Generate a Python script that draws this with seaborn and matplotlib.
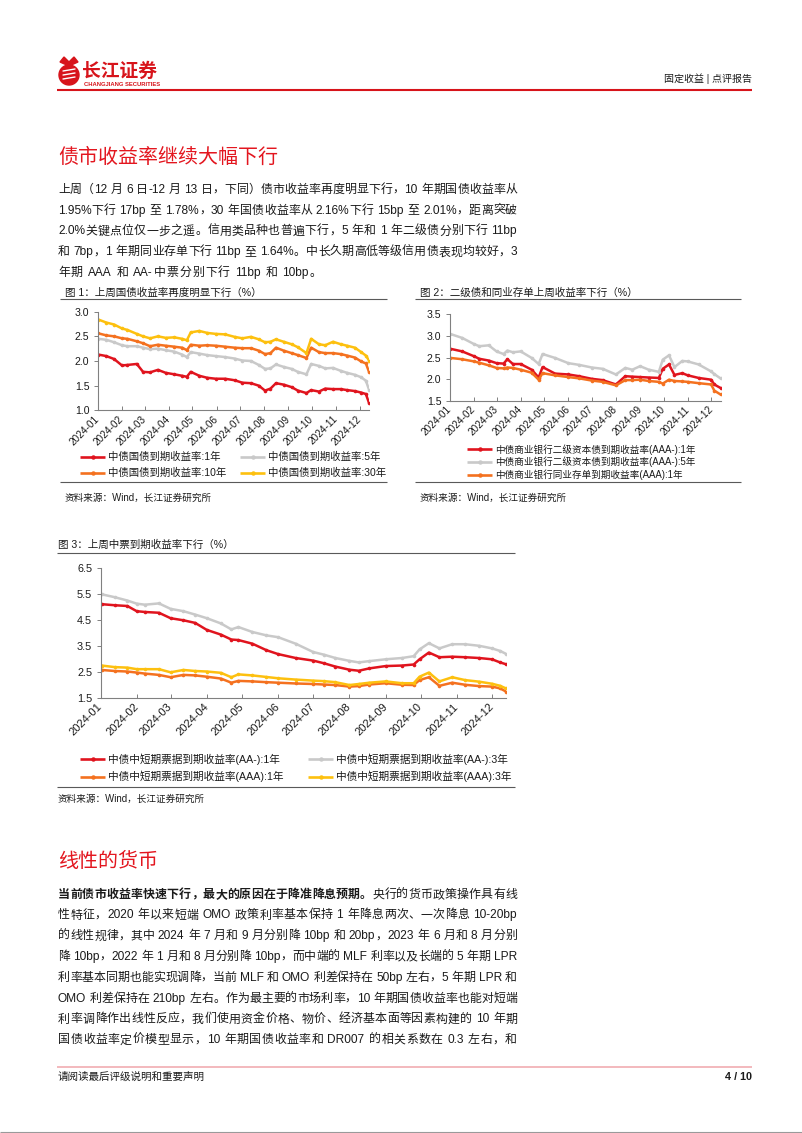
import re
import pandas as pd
import matplotlib
matplotlib.use('Agg')
import matplotlib.pyplot as plt
import matplotlib.dates as mdates
from matplotlib.ticker import FormatStrFormatter
from matplotlib.font_manager import FontProperties
from matplotlib.lines import Line2D
from matplotlib.patches import Circle, Polygon
import seaborn as sns

# ---------------- DATA ----------------
month_labels = ['2024-01', '2024-02', '2024-03', '2024-04', '2024-05', '2024-06',
                '2024-07', '2024-08', '2024-09', '2024-10', '2024-11', '2024-12']

# Chart 1: government bond yields
c1_dates = ['01-02', '01-12', '01-22', '02-01', '02-08', '02-20', '02-28', '03-08', '03-18', '03-28',
            '04-08', '04-18', '04-24', '04-29', '05-10', '05-20', '05-31', '06-12', '06-24', '07-04',
            '07-15', '07-25', '08-02', '08-09', '08-16', '08-26', '09-05', '09-13', '09-24', '09-30',
            '10-10', '10-18', '10-28', '11-07', '11-15', '11-25', '12-03', '12-09', '12-13']
c1_names = ['中债国债到期收益率:1年', '中债国债到期收益率:5年',
            '中债国债到期收益率:10年', '中债国债到期收益率:30年']
gov_1y = [2.13, 2.10, 2.04, 1.91, 1.92, 1.94, 1.78, 1.77, 1.82, 1.76, 1.73, 1.70, 1.68, 1.78, 1.70,
          1.66, 1.64, 1.64, 1.61, 1.56, 1.55, 1.50, 1.40, 1.44, 1.55, 1.52, 1.47, 1.40, 1.35, 1.41,
          1.38, 1.44, 1.43, 1.43, 1.41, 1.39, 1.36, 1.33, 1.15]
gov_5y = [2.45, 2.43, 2.38, 2.32, 2.30, 2.30, 2.27, 2.24, 2.25, 2.22, 2.19, 2.13, 2.08, 2.18, 2.15,
          2.12, 2.10, 2.08, 2.05, 2.01, 2.00, 1.92, 1.84, 1.85, 1.93, 1.88, 1.84, 1.78, 1.73, 1.94,
          1.90, 1.85, 1.86, 1.80, 1.76, 1.72, 1.67, 1.60, 1.42]
gov_10y = [2.56, 2.52, 2.50, 2.46, 2.45, 2.40, 2.36, 2.30, 2.33, 2.31, 2.29, 2.27, 2.22, 2.33, 2.31,
           2.32, 2.31, 2.29, 2.27, 2.26, 2.26, 2.21, 2.14, 2.16, 2.27, 2.21, 2.16, 2.12, 2.06, 2.27,
           2.18, 2.16, 2.16, 2.14, 2.11, 2.07, 1.99, 1.95, 1.78]
gov_30y = [2.84, 2.78, 2.74, 2.66, 2.63, 2.55, 2.50, 2.46, 2.50, 2.47, 2.48, 2.45, 2.42, 2.58, 2.61,
           2.57, 2.55, 2.54, 2.49, 2.46, 2.49, 2.44, 2.38, 2.39, 2.44, 2.39, 2.34, 2.28, 2.16, 2.45,
           2.34, 2.32, 2.39, 2.34, 2.31, 2.27, 2.18, 2.11, 2.01]

# Chart 2: tier-2 capital bonds and NCD
c2_dates = ['01-02', '01-17', '02-01', '02-08', '02-20', '03-01', '03-10', '03-15', '03-22', '04-01',
            '04-15', '04-24', '04-29', '05-15', '06-01', '06-15', '07-01', '07-15', '08-01', '08-13',
            '08-22', '09-01', '09-12', '09-25', '09-30', '10-08', '10-15', '10-25', '11-01', '11-15',
            '12-01', '12-05', '12-13']
c2_names = ['中债商业银行二级资本债到期收益率(AAA-):1年',
            '中债商业银行二级资本债到期收益率(AAA-):5年',
            '中债商业银行同业存单到期收益率(AAA):1年']
t2_1y = [2.70, 2.64, 2.53, 2.47, 2.43, 2.37, 2.36, 2.46, 2.35, 2.35, 2.22, 2.04, 2.28, 2.13, 2.11,
         2.07, 2.01, 1.98, 1.88, 2.07, 2.06, 2.05, 2.04, 2.03, 2.24, 2.34, 2.10, 2.14, 2.09, 2.03,
         1.99, 1.88, 1.80]
t2_5y = [3.04, 2.95, 2.81, 2.76, 2.78, 2.64, 2.58, 2.66, 2.62, 2.64, 2.49, 2.35, 2.58, 2.49, 2.37,
         2.33, 2.27, 2.24, 2.11, 2.26, 2.22, 2.30, 2.22, 2.17, 2.45, 2.55, 2.28, 2.42, 2.41, 2.34,
         2.18, 2.12, 2.02]
ncd_1y = [2.49, 2.46, 2.41, 2.38, 2.32, 2.26, 2.25, 2.27, 2.26, 2.22, 2.15, 1.99, 2.14, 2.09, 2.05,
          2.02, 1.97, 1.94, 1.86, 1.98, 1.98, 1.99, 1.96, 1.94, 1.90, 1.99, 1.96, 1.95, 1.94, 1.91,
          1.88, 1.74, 1.65]

# Chart 3: medium-term notes
c3_dates = ['01-02', '01-13', '01-24', '02-01', '02-08', '02-20', '03-01', '03-12', '03-22', '04-01',
            '04-13', '04-22', '04-28', '05-10', '05-22', '06-01', '06-16', '07-01', '07-10', '07-20',
            '08-01', '08-09', '08-18', '09-01', '09-15', '09-25', '09-30', '10-08', '10-17', '10-28',
            '11-08', '11-20', '12-01', '12-08', '12-13']
c3_names = ['中债中短期票据到期收益率(AA-):1年', '中债中短期票据到期收益率(AA-):3年',
            '中债中短期票据到期收益率(AAA):1年', '中债中短期票据到期收益率(AAA):3年']
mtn_aam_1y = [5.12, 5.08, 5.05, 4.85, 4.82, 4.79, 4.58, 4.50, 4.40, 4.13, 3.95, 3.76, 3.74, 3.60,
              3.35, 3.20, 3.05, 2.95, 2.85, 2.72, 2.60, 2.56, 2.65, 2.74, 2.76, 2.80, 3.00, 3.26,
              3.08, 3.10, 3.08, 3.05, 3.00, 2.88, 2.81]
mtn_aam_3y = [5.50, 5.39, 5.26, 5.14, 5.10, 5.15, 4.94, 4.85, 4.72, 4.58, 4.38, 4.15, 4.24, 4.05,
              3.92, 3.85, 3.60, 3.28, 3.18, 3.05, 2.94, 2.88, 2.93, 3.00, 3.05, 3.12, 3.38, 3.62,
              3.42, 3.58, 3.58, 3.52, 3.42, 3.32, 3.21]
mtn_aaa_1y = [2.59, 2.55, 2.53, 2.49, 2.45, 2.40, 2.31, 2.40, 2.38, 2.33, 2.26, 2.10, 2.17, 2.15,
              2.12, 2.10, 2.07, 2.05, 2.03, 2.01, 1.95, 1.97, 2.03, 2.08, 2.02, 2.01, 2.20, 2.31,
              1.98, 2.10, 2.02, 1.97, 1.95, 1.88, 1.76]
mtn_aaa_3y = [2.76, 2.70, 2.68, 2.62, 2.62, 2.62, 2.50, 2.59, 2.55, 2.53, 2.48, 2.31, 2.42, 2.38,
              2.32, 2.27, 2.22, 2.18, 2.16, 2.12, 2.01, 2.05, 2.10, 2.15, 2.08, 2.08, 2.33, 2.49,
              2.15, 2.31, 2.20, 2.14, 2.06, 1.98, 1.88]

# ---------------- STYLE ----------------
sns.set_style('ticks')
FAM = ['Liberation Sans', 'Noto Sans CJK SC']
plt.rcParams['font.family'] = FAM
plt.rcParams['axes.unicode_minus'] = False

RED = '#E0141E'
GRAY = '#C9C9C9'
ORANGE = '#F4711F'
YELLOW = '#FDC00F'
TITLE_RED = '#E3161F'
TXT = '#1a1a1a'
SPINE = '#808080'

W, H = 802, 1133
fig = plt.figure(figsize=(W / 100, H / 100), dpi=100)
bg = fig.add_axes([0, 0, 1, 1])
bg.set_xlim(0, W)
bg.set_ylim(H, 0)
bg.axis('off')
renderer = fig.canvas.get_renderer()


def px_axes(l, r, t, b):
    return fig.add_axes([l / W, 1 - b / H, (r - l) / W, (b - t) / H])


def hline(y, x1, x2, color, lw):
    bg.add_line(Line2D([x1, x2], [y, y], color=color, lw=lw, solid_capstyle='butt'))


def draw_chart(ax, dates, series, names, colors, ylim, yticks, xend, xfs, yfs):
    frames = [pd.DataFrame({'date': pd.to_datetime(['2024-' + d for d in dates]),
                            'value': v, 'series': n}) for n, v in zip(names, series)]
    df = pd.concat(frames, ignore_index=True)
    sns.lineplot(data=df, x='date', y='value', hue='series', hue_order=names,
                 palette=dict(zip(names, colors)), estimator=None, ax=ax, legend=False,
                 linewidth=1.8, marker='o', markersize=2.6, markeredgewidth=0)
    ax.set_xlim(pd.Timestamp('2024-01-01'), pd.Timestamp(xend))
    ax.set_ylim(*ylim)
    ax.set_yticks(yticks)
    ax.yaxis.set_major_formatter(FormatStrFormatter('%.1f'))
    ticks = pd.to_datetime([m + '-01' for m in month_labels])
    ax.set_xticks(ticks)
    ax.set_xticklabels(month_labels, rotation=45, ha='right', va='center',
                       rotation_mode='anchor', fontsize=xfs, color=TXT)
    for lbl in ax.get_yticklabels():
        lbl.set_fontsize(yfs)
        lbl.set_color(TXT)
    ax.set_xlabel('')
    ax.set_ylabel('')
    for s in ['top', 'right']:
        ax.spines[s].set_visible(False)
    for s in ['left', 'bottom']:
        ax.spines[s].set_color(SPINE)
        ax.spines[s].set_linewidth(0.8)
    ax.tick_params(axis='x', direction='in', length=3, width=0.7, color=SPINE, pad=5)
    ax.tick_params(axis='y', direction='out', length=3, width=0.7, color=SPINE, pad=3)
    ax.set_facecolor('none')


def legend_entry(x1, x2, y, color, label, fs):
    xm = (x1 + x2) / 2
    bg.add_line(Line2D([x1, xm, x2], [y, y, y], color=color, lw=1.9, marker='o',
                       markersize=3.2, markevery=[1], markeredgewidth=0, solid_capstyle='butt'))
    bg.text(x2 + 3, y, label, fontsize=fs, ha='left', va='center', color=TXT)


# ---------------- justified text helpers ----------------
def tokenize(s):
    return re.findall(r'[A-Za-z0-9\.%\-]+|\s|.', s)


def text_w(t, prop):
    if t == ' ':
        a = renderer.get_text_width_height_descent('a a', prop, ismath=False)[0]
        b = renderer.get_text_width_height_descent('aa', prop, ismath=False)[0]
        return a - b
    return renderer.get_text_width_height_descent(t, prop, ismath=False)[0]


BODY = 8.6


def para_line(segs, x0, x1, yc, size=BODY, justify=True, color=TXT):
    toks = []
    for text, wgt in segs:
        for t in tokenize(text):
            toks.append((t, wgt))
    props = {w: FontProperties(family=FAM, size=size, weight=w) for w in set(w for _, w in toks)}
    widths = [text_w(t, props[w]) for t, w in toks]
    n = len(toks)
    if justify and n > 1:
        gap = (x1 - x0 - sum(widths)) / (n - 1)
    else:
        gap = 0.9
    base = yc + 4.4
    x = x0
    for (t, w), wd in zip(toks, widths):
        if t != ' ':
            bg.text(x, base, t, fontsize=size, fontweight=w, ha='left', va='baseline', color=color)
        x += wd + gap


# ---------------- HEADER ----------------
bg.add_patch(Circle((69, 75), 10, color='#D7141B', zorder=3))
bg.add_patch(Polygon([[60, 62], [64, 57], [69, 62], [74, 57], [78, 62], [69, 66]],
                     closed=True, color='#D7141B', zorder=3))
for dy in (-4, 0, 4):
    bg.add_line(Line2D([63, 75], [75 + dy, 73 + dy], color='white', lw=1.0, zorder=4))
bg.text(82, 72, '长江证券', fontsize=13.5, fontweight='bold', color='#D7141B', ha='left', va='center')
bg.text(84, 84, 'CHANGJIANG SECURITIES', fontsize=4.2, fontweight='bold', color='#D7141B',
        ha='left', va='center')
bg.text(752, 79, '固定收益 | 点评报告', fontsize=7.2, color=TXT, ha='right', va='center')
hline(90, 57, 752, '#D7141B', 1.5)

# ---------------- SECTION 1 ----------------
bg.text(58, 157, '债市收益率继续大幅下行', fontsize=14.4, color=TITLE_RED, ha='left', va='center')
p1 = ['上周（12 月 6 日-12 月 13 日，下同）债市收益率再度明显下行，10 年期国债收益率从',
      '1.95%下行 17bp 至 1.78%，30 年国债收益率从 2.16%下行 15bp 至 2.01%，距离突破',
      '2.0%关键点位仅一步之遥。信用类品种也普遍下行，5 年和 1 年二级债分别下行 11bp',
      '和 7bp，1 年期同业存单下行 11bp 至 1.64%。中长久期高低等级信用债表现均较好，3',
      '年期 AAA 和 AA-中票分别下行 11bp 和 10bp。']
for i, ln in enumerate(p1):
    para_line([(ln, 'normal')], 58, 517, 188.3 + i * 20.85, justify=(i < len(p1) - 1))

# ---------------- CHART 1 ----------------
bg.text(65, 292.3, '图 1：上周国债收益率再度明显下行（%）', fontsize=7.6, color=TXT, ha='left', va='center')
hline(299.3, 60, 387, '#595959', 0.8)
ax1 = px_axes(97.7, 369, 311.7, 410.3)
draw_chart(ax1, c1_dates, [gov_1y, gov_5y, gov_10y, gov_30y], c1_names,
           [RED, GRAY, ORANGE, YELLOW], (1.0, 3.0), [1.0, 1.5, 2.0, 2.5, 3.0], '2024-12-13', 7.2, 7.6)
legend_entry(80, 105, 456.7, RED, c1_names[0], 7.5)
legend_entry(240, 265, 456.7, GRAY, c1_names[1], 7.5)
legend_entry(80, 105, 472.7, ORANGE, c1_names[2], 7.5)
legend_entry(240, 265, 472.7, YELLOW, c1_names[3], 7.5)
hline(481.7, 60, 387, '#595959', 0.8)
bg.text(65, 498, '资料来源：Wind，长江证券研究所', fontsize=6.9, color=TXT, ha='left', va='center')

# ---------------- CHART 2 ----------------
bg.text(420, 292.3, '图 2：二级债和同业存单上周收益率下行（%）', fontsize=7.6, color=TXT, ha='left', va='center')
hline(299.3, 415, 741, '#595959', 0.8)
ax2 = px_axes(449.7, 720.5, 314, 401)
draw_chart(ax2, c2_dates, [t2_1y, t2_5y, ncd_1y], c2_names,
           [RED, GRAY, ORANGE], (1.5, 3.5), [1.5, 2.0, 2.5, 3.0, 3.5], '2024-12-13', 7.2, 7.6)
legend_entry(467, 492, 449.3, RED, c2_names[0], 6.9)
legend_entry(467, 492, 462.0, GRAY, c2_names[1], 6.9)
legend_entry(467, 492, 475.0, ORANGE, c2_names[2], 6.9)
hline(481.7, 415, 741, '#595959', 0.8)
bg.text(420, 498, '资料来源：Wind，长江证券研究所', fontsize=6.9, color=TXT, ha='left', va='center')

# ---------------- CHART 3 ----------------
bg.text(58.3, 545, '图 3：上周中票到期收益率下行（%）', fontsize=7.6, color=TXT, ha='left', va='center')
hline(552.7, 57, 515, '#595959', 0.8)
ax3 = px_axes(100.5, 506, 568.3, 698.3)
draw_chart(ax3, c3_dates, [mtn_aam_1y, mtn_aam_3y, mtn_aaa_1y, mtn_aaa_3y], c3_names,
           [RED, GRAY, ORANGE, YELLOW], (1.5, 6.5), [1.5, 2.5, 3.5, 4.5, 5.5, 6.5], '2024-12-13', 8.0, 7.8)
legend_entry(80, 105, 759.3, RED, c3_names[0], 7.7)
legend_entry(308, 333, 759.3, GRAY, c3_names[1], 7.7)
legend_entry(80, 105, 776.7, ORANGE, c3_names[2], 7.7)
legend_entry(308, 333, 776.7, YELLOW, c3_names[3], 7.7)
hline(787.3, 57, 515, '#595959', 0.8)
bg.text(58, 799.3, '资料来源：Wind，长江证券研究所', fontsize=6.9, color=TXT, ha='left', va='center')

# ---------------- SECTION 2 ----------------
bg.text(58, 861.7, '线性的货币', fontsize=14.4, color=TITLE_RED, ha='left', va='center')
p2 = [[('当前债市收益率快速下行，最大的原因在于降准降息预期。', 'bold'), ('央行的货币政策操作具有线', 'normal')],
      [('性特征，2020 年以来短端 OMO 政策利率基本保持 1 年降息两次、一次降息 10-20bp', 'normal')],
      [('的线性规律，其中 2024 年 7 月和 9 月分别降 10bp 和 20bp，2023 年 6 月和 8 月分别', 'normal')],
      [('降 10bp，2022 年 1 月和 8 月分别降 10bp，而中端的 MLF 利率以及长端的 5 年期 LPR', 'normal')],
      [('利率基本同期也能实现调降，当前 MLF 和 OMO 利差保持在 50bp 左右，5 年期 LPR 和', 'normal')],
      [('OMO 利差保持在 210bp 左右。作为最主要的市场利率，10 年期国债收益率也能对短端', 'normal')],
      [('利率调降作出线性反应，我们使用资金价格、物价、经济基本面等因素构建的 10 年期', 'normal')],
      [('国债收益率定价模型显示，10 年期国债收益率和 DR007 的相关系数在 0.3 左右，和', 'normal')]]
for i, segs in enumerate(p2):
    para_line(segs, 58, 517, 893.3 + i * 20.8, justify=True)

# ---------------- FOOTER ----------------
hline(1066.7, 57, 752, '#F2B3B8', 1.3)
bg.text(58, 1077, '请阅读最后评级说明和重要声明', fontsize=7.6, color=TXT, ha='left', va='center')
bg.text(752, 1077, '4 / 10', fontsize=7.8, fontweight='bold', color=TXT, ha='right', va='center')
hline(1132, 0, W, '#9a9a9a', 0.8)

fig.savefig('out.png', dpi=100)
